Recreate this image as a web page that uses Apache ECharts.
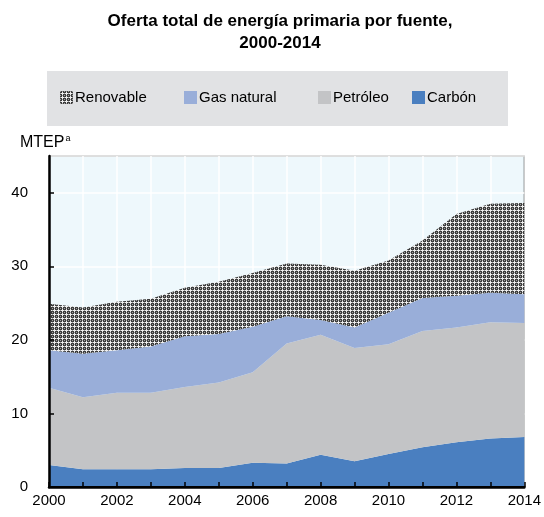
<!DOCTYPE html>
<html lang="es">
<head>
    <meta charset="UTF-8">
    <title>Oferta total de energía primaria por fuente</title>
    <style>
        html, body { margin: 0; padding: 0; background: #fff; }
        #main { width: 544px; height: 517px; }
    </style>
</head>
<body>
    <div id="main"></div>
    <script src="https://cdn.jsdelivr.net/npm/echarts@6/dist/echarts.min.js"></script>
    <script>
        // datos (MTEP)
        var years = ['2000', '2001', '2002', '2003', '2004', '2005', '2006', '2007',
            '2008', '2009', '2010', '2011', '2012', '2013', '2014'];
        var carbon = [3.0, 2.4, 2.4, 2.4, 2.6, 2.6, 3.3, 3.2, 4.4, 3.5, 4.5, 5.4, 6.1, 6.6, 6.8];
        var petroleo = [10.5, 9.8, 10.4, 10.4, 11.0, 11.6, 12.3, 16.3, 16.3, 15.4, 14.9, 15.8, 15.6, 15.8, 15.5];
        var gas = [5.1, 5.9, 5.8, 6.3, 6.9, 6.6, 6.2, 3.7, 2.0, 2.8, 4.3, 4.5, 4.3, 4.0, 3.9];
        var renovable = [6.3, 6.3, 6.6, 6.5, 6.6, 7.1, 7.3, 7.2, 7.5, 7.7, 7.1, 7.8, 11.1, 12.1, 12.4];
        var yTicks = [0, 10, 20, 30, 40];

        // trama para renovable: cruces claras sobre fondo oscuro
        function makePattern() {
            var c = document.createElement('canvas');
            c.width = 4; c.height = 4;
            var ctx = c.getContext('2d');
            ctx.fillStyle = '#3c3c3c';
            ctx.fillRect(0, 0, 4, 4);
            ctx.fillStyle = '#a0a0a0';
            [[0, 0], [2, 0], [0, 2]].forEach(function (p) {
                ctx.fillRect(p[0], p[1], 1, 1);
            });
            ctx.fillStyle = '#efefef';
            [[2, 1], [1, 2], [2, 2], [3, 2], [2, 3]].forEach(function (p) {
                ctx.fillRect(p[0], p[1], 1, 1);
            });
            return { image: c, repeat: 'repeat' };
        }
        var hatch = makePattern();

        var font = 'Liberation Sans, Arial, sans-serif';

        function area(name, data, color) {
            return {
                name: name,
                type: 'line',
                stack: 'total',
                data: data,
                color: color,
                symbol: 'none',
                lineStyle: { width: 0 },
                areaStyle: { color: color, opacity: 1 },
                itemStyle: { color: color },
                z: 2
            };
        }

        function legendAt(name, left) {
            return {
                data: [name],
                left: left,
                top: 90,
                icon: 'rect',
                itemWidth: 13,
                itemHeight: 13,
                itemGap: 0,
                padding: 0,
                textStyle: { fontFamily: font, fontSize: 15, color: '#000', padding: [0, 0, 0, -3] }
            };
        }

        var chart = echarts.init(document.getElementById('main'));
        chart.setOption({
            animation: false,
            graphic: [
                {
                    type: 'rect', left: 47, top: 71, z: -1,
                    shape: { width: 461, height: 55 },
                    style: { fill: '#e1e2e4' }
                },
                {
                    type: 'text', x: 280, y: 10,
                    style: {
                        text: 'Oferta total de energía primaria por fuente,\n2000-2014',
                        textAlign: 'center',
                        font: 'bold 17px "Liberation Sans Narrow", "Arial Narrow", sans-serif',
                        lineHeight: 22,
                        fill: '#000'
                    }
                },
                {
                    type: 'text', x: 20, y: 134,
                    style: {
                        text: '{m|MTEP}{s|a}',
                        rich: {
                            m: { fontFamily: font, fontSize: 16, fill: '#000' },
                            s: { fontFamily: font, fontSize: 9, fill: '#000', padding: [0, 0, 8, 1] }
                        }
                    }
                }
            ],
            legend: [
                legendAt('Renovable', 60),
                legendAt('Gas natural', 184),
                legendAt('Petróleo', 318),
                legendAt('Carbón', 412)
            ],
            grid: {
                left: 49, right: 16, top: 156, bottom: 30,
                show: true,
                backgroundColor: '#eef8fc',
                borderColor: '#000',
                borderWidth: 1
            },
            xAxis: [
                {
                    // líneas de cuadrícula, detrás de las áreas
                    type: 'category',
                    data: years,
                    boundaryGap: false,
                    axisLine: { show: false },
                    axisTick: { show: false },
                    axisLabel: { show: false },
                    splitLine: { show: true, interval: 0, lineStyle: { color: '#fff', width: 1.5 } },
                    z: 0
                },
                {
                    type: 'category',
                    data: years,
                    boundaryGap: false,
                    position: 'top',
                    axisLine: { lineStyle: { color: '#000', width: 2 } },
                    axisTick: { show: false },
                    axisLabel: { show: false },
                    splitLine: { show: false },
                    z: 5
                },
                {
                    type: 'category',
                    data: years,
                    boundaryGap: false,
                    position: 'bottom',
                    axisLine: { lineStyle: { color: '#000', width: 2.5 } },
                    axisTick: { inside: true, length: 5, interval: 0, lineStyle: { color: '#000', width: 1.5 } },
                    axisLabel: { interval: 1, fontFamily: font, fontSize: 15, color: '#000', margin: 6 },
                    splitLine: { show: false },
                    z: 5
                }
            ],
            yAxis: [
                {
                    type: 'value',
                    min: 0,
                    max: 45,
                    interval: 10,
                    axisLine: { show: false },
                    axisTick: { show: false },
                    axisLabel: { show: false },
                    splitLine: { show: true, lineStyle: { color: '#fff', width: 1.5 } },
                    z: 0
                },
                {
                    type: 'value',
                    min: 0,
                    max: 45,
                    interval: 10,
                    position: 'left',
                    axisLine: { show: true, lineStyle: { color: '#000', width: 2.5 } },
                    axisTick: { show: true, inside: true, length: 5, lineStyle: { color: '#000', width: 1.5 } },
                    axisLabel: {
                        showMaxLabel: false,
                        fontFamily: font, fontSize: 15, color: '#000', margin: 21,
                        formatter: function (v) { return yTicks.indexOf(v) >= 0 ? String(v) : ''; }
                    },
                    splitLine: { show: false },
                    z: 5
                }
            ],
            series: [
                area('Carbón', carbon, '#4a7fc0'),
                area('Petróleo', petroleo, '#c3c4c6'),
                area('Gas natural', gas, '#99aed9'),
                area('Renovable', renovable, hatch)
            ]
        });
    </script>
</body>
</html>
